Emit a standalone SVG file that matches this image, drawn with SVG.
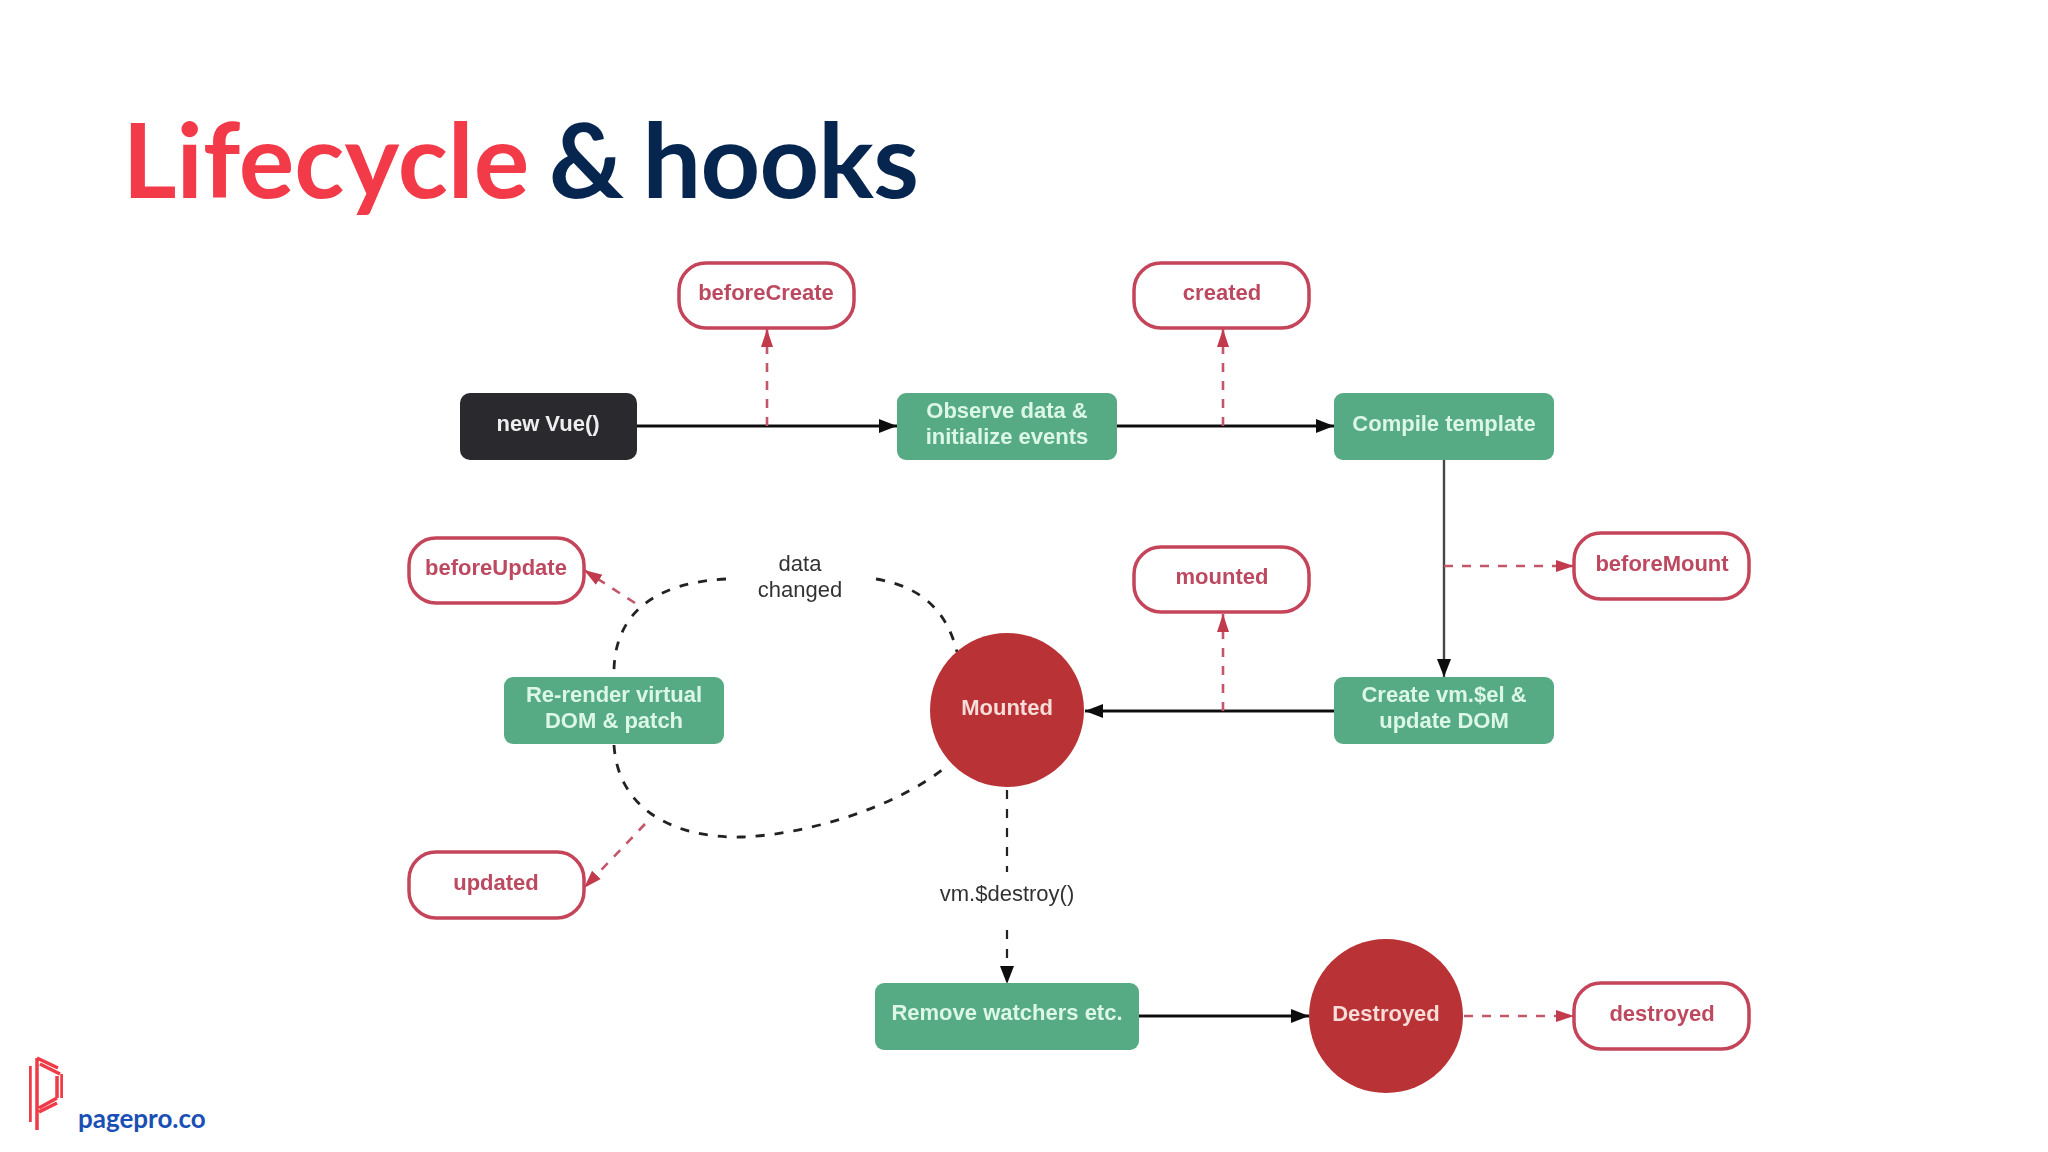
<svg xmlns="http://www.w3.org/2000/svg" width="2048" height="1152" viewBox="0 0 2048 1152">
<defs>
<marker id="ab" markerUnits="userSpaceOnUse" markerWidth="20" markerHeight="16" refX="18" refY="8" orient="auto"><path d="M0 1L18 8L0 15Z" fill="#111"/></marker>
<marker id="ar" markerUnits="userSpaceOnUse" markerWidth="20" markerHeight="16" refX="18" refY="8" orient="auto"><path d="M0 2L18 8L0 14Z" fill="#c23b4e"/></marker>
<filter id="soft" x="-2%" y="-2%" width="104%" height="104%"><feGaussianBlur stdDeviation="0.45"/></filter>
</defs>
<style>
.hook rect{fill:#fff;stroke:#c4445a;stroke-width:3.5}
.step rect{fill:#57ab85}
.t{font-family:"Liberation Sans",Arial,sans-serif;font-size:22px;font-weight:700;text-anchor:middle}
.hook text{fill:#bd4a60}
.step text{fill:#dcf7e6}
.st{fill:#f7dcd8}
.dk{font-family:"Liberation Sans",Arial,sans-serif;font-size:22px;fill:#333;text-anchor:middle}
.s{fill:none;stroke:#111;stroke-width:3}
.sd{fill:none;stroke:#222;stroke-width:2.8;stroke-dasharray:9 10}
.rd{fill:none;stroke:#c4566a;stroke-width:2.6;stroke-dasharray:9 9}
.ttl{font-family:Lato,sans-serif;font-size:104px;font-weight:700}
</style>
<rect width="2048" height="1152" fill="#fff"/>
<text class="ttl" x="122.5" y="198"><tspan fill="#f33a48">Lifecycle</tspan><tspan fill="#06264f" letter-spacing="-0.8" word-spacing="-5"> &amp; hooks</tspan></text>
<g filter="url(#soft)">
<g id="connectors">
<path class="s" d="M637 426H897" marker-end="url(#ab)"/>
<path class="s" d="M1117 426H1334" marker-end="url(#ab)"/>
<path class="s" d="M1444 459V677" style="stroke:#444;stroke-width:2.4" marker-end="url(#ab)"/>
<path class="s" d="M1334 711H1085" marker-end="url(#ab)"/>
<path class="s" d="M1139 1016H1309" marker-end="url(#ab)"/>
<path class="rd" d="M767 426V329" marker-end="url(#ar)"/>
<path class="rd" d="M1223 426V329" marker-end="url(#ar)"/>
<path class="rd" d="M1444 566H1574" marker-end="url(#ar)"/>
<path class="rd" d="M1223 711V614" marker-end="url(#ar)"/>
<path class="rd" d="M1464 1016H1574" marker-end="url(#ar)"/>
<path class="rd" d="M635 603L584 570" marker-end="url(#ar)"/>
<path class="rd" d="M645 824L584 888" marker-end="url(#ar)"/>
<path class="sd" d="M726 579C660 582 612 610 614 677"/>
<path class="sd" d="M876 579C925 587 948 615 957 652"/>
<path class="sd" d="M614 745C618 810 675 838 740 837C810 835 900 805 947 766"/>
<path class="sd" d="M1007 790V872" style="stroke-width:2.2"/>
<path class="sd" d="M1007 930V984" style="stroke-width:2.2" marker-end="url(#ab)"/>
</g>
<g id="beforeCreate" class="hook"><rect x="679" y="263" width="175" height="65" rx="27"/><text class="t" x="766" y="300">beforeCreate</text></g>
<g id="created" class="hook"><rect x="1134" y="263" width="175" height="65" rx="27"/><text class="t" x="1222" y="300">created</text></g>
<g id="newVue"><rect x="460" y="393" width="177" height="67" rx="10" fill="#2b2a2e"/><text class="t" x="548" y="431" fill="#eee">new Vue()</text></g>
<g id="observe" class="step"><rect x="897" y="393" width="220" height="67" rx="9"/><text class="t" x="1007" y="418">Observe data &amp;</text><text class="t" x="1007" y="444">initialize events</text></g>
<g id="compile" class="step"><rect x="1334" y="393" width="220" height="67" rx="9"/><text class="t" x="1444" y="431">Compile template</text></g>
<g id="beforeUpdate" class="hook"><rect x="409" y="538" width="175" height="65" rx="27"/><text class="t" x="496" y="575">beforeUpdate</text></g>
<g id="mounted" class="hook"><rect x="1134" y="547" width="175" height="65" rx="27"/><text class="t" x="1222" y="584">mounted</text></g>
<g id="beforeMount" class="hook"><rect x="1574" y="533" width="175" height="66" rx="27"/><text class="t" x="1662" y="571">beforeMount</text></g>
<g id="rerender" class="step"><rect x="504" y="677" width="220" height="67" rx="9"/><text class="t" x="614" y="702">Re-render virtual</text><text class="t" x="614" y="728">DOM &amp; patch</text></g>
<g id="createVm" class="step"><rect x="1334" y="677" width="220" height="67" rx="9"/><text class="t" x="1444" y="702">Create vm.$el &amp;</text><text class="t" x="1444" y="728">update DOM</text></g>
<g id="mountedState"><circle cx="1007" cy="710" r="77" fill="#b93235"/><text class="t st" x="1007" y="715">Mounted</text></g>
<g id="updated" class="hook"><rect x="409" y="852" width="175" height="66" rx="27"/><text class="t" x="496" y="890">updated</text></g>
<g id="remove" class="step"><rect x="875" y="983" width="264" height="67" rx="9"/><text class="t" x="1007" y="1020">Remove watchers etc.</text></g>
<g id="destroyedState"><circle cx="1386" cy="1016" r="77" fill="#b93235"/><text class="t st" x="1386" y="1021">Destroyed</text></g>
<g id="destroyed" class="hook"><rect x="1574" y="983" width="175" height="66" rx="27"/><text class="t" x="1662" y="1021">destroyed</text></g>
<text class="dk" x="800" y="571">data</text>
<text class="dk" x="800" y="597">changed</text>
<text class="dk" x="1007" y="901">vm.$destroy()</text>
</g>
<g id="logo" fill="none" stroke="#ee3b47" stroke-width="3.5" filter="url(#soft)"><path d="M30 1066V1122M37 1058V1130M37 1058L58 1068M40 1064L60 1074M62 1074V1098M57 1076V1098M57 1098L39 1108M57 1103L39 1112"/></g>
<text x="78" y="1128" style="font-family:Lato,sans-serif;font-size:26px;font-weight:700" fill="#1a4fb5">pagepro.co</text>
</svg>
